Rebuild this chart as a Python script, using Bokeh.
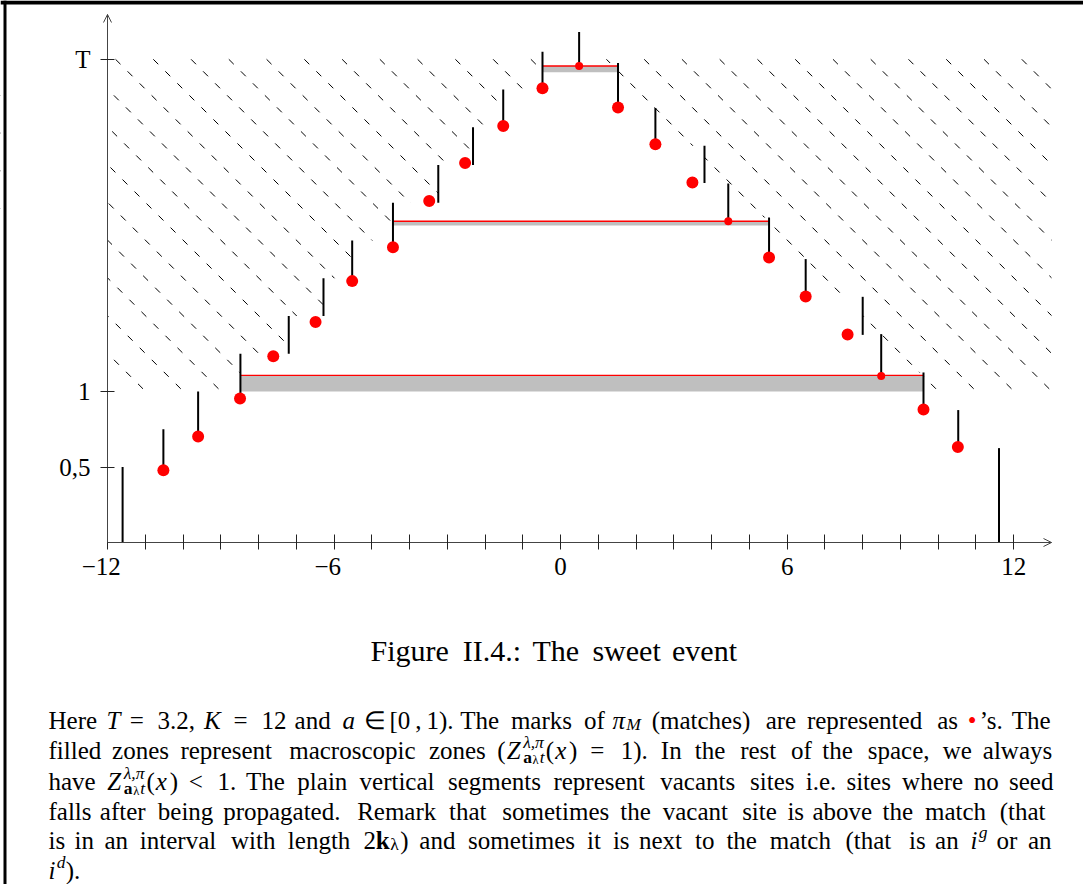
from bokeh.plotting import figure
from bokeh.models import Range1d, FixedTicker, Arrow, OpenHead, ColumnDataSource
from bokeh.core.properties import value, field
from bokeh.embed import file_html
from bokeh.resources import INLINE

# ---------------- data ----------------
T_VALUE = 3.2
x_ticks = list(range(-12, 13))
x_tick_labels = {-12: "\u221212\u2002", -6: "\u22126\u2002", 0: "0", 6: "6", 12: "12"}
y_ticks = [0.5, 1, 3.2]
y_tick_labels = {0.5: "0,5", 1: "1", 3.2: "T"}

# vacant sites (plain vertical segments)
seg_x = [-11.60, -10.52, -9.60, -8.48, -7.20, -6.28, -5.52, -4.44, -3.24, -2.32, -1.52, -0.48,
         0.49, 1.52, 2.51, 3.81, 4.44, 5.52, 6.49, 8.00, 8.49, 9.61, 10.53, 11.61]
seg_y0 = [0.0, 0.48, 0.70, 0.954, 1.25, 1.50, 1.73, 1.955, 2.25, 2.50, 2.76, 3.01,
          3.155, 2.88, 2.64, 2.38, 2.128, 1.887, 1.63, 1.375, 1.10, 0.88, 0.632, 0.0]
seg_y1 = [0.50, 0.75, 1.00, 1.25, 1.50, 1.75, 2.00, 2.25, 2.50, 2.75, 3.00, 3.25,
          3.38, 3.175, 2.877, 2.627, 2.377, 2.152, 1.877, 1.627, 1.38, 1.126, 0.877, 0.625]

# matches (red dots)
match_x = [-10.52, -9.60, -8.49, -7.61, -6.49, -5.52, -4.44, -3.48, -2.53, -1.52, -0.48,
           0.49, 1.52, 2.51, 3.49, 4.44, 5.52, 6.49, 7.60, 8.49, 9.61, 10.52]
match_y = [0.479, 0.702, 0.954, 1.234, 1.460, 1.731, 1.955, 2.261, 2.513, 2.758, 3.008,
           3.155, 2.881, 2.638, 2.384, 2.128, 1.887, 1.629, 1.377, 1.102, 0.881, 0.632]
match_on_zone = [False] * 11 + [True] + [False] * 3 + [True] + [False] * 3 + [True] + [False] * 2

# macroscopic zones
zone_x0 = [-8.48, -4.44, -0.48]
zone_x1 = [9.61, 5.52, 1.52]
zone_y0 = [1.0, 2.10, 3.115]
zone_y1 = [1.107, 2.127, 3.156]

# ---------------- layout ----------------
W, H = 1083, 884
FL, FR, FT, FB = 107, 1051, 14, 542      # plotting box (pixels)
X0, X1 = -12, 13
UX = (FR - FL) / (X1 - X0)
UY = 151.0
Y1 = (FB - FT) / UY
FONT = "Liberation Serif"


def X(px):
    return X0 + (px - FL) / UX


def Y(py):
    return (FB - py) / UY


p = figure(width=W, height=H, x_range=Range1d(X(0), X(W)), y_range=Range1d(Y(H), Y(0)),
           min_border=0, output_backend="svg", toolbar_location=None)
p.xgrid.visible = False
p.ygrid.visible = False
p.outline_line_color = None
p.background_fill_color = "white"
p.border_fill_color = "white"

# axes (drawn at fixed data locations, inside the canvas)
ax = p.xaxis[0]
ax.fixed_location = 0
ax.bounds = (X0, X1)
ax.ticker = FixedTicker(ticks=x_ticks)
ax.major_label_overrides = {t: x_tick_labels.get(t, "") for t in x_ticks}
ax.axis_line_color = "#444444"
ax.major_tick_line_color = "#222222"
ax.major_tick_in = 8
ax.major_tick_out = 7
ax.minor_tick_line_color = None
ax.major_label_text_font = FONT
ax.major_label_text_font_size = "25px"
ax.major_label_text_color = "black"
ax.major_label_standoff = 3

ay = p.yaxis[0]
ay.fixed_location = X0
ay.bounds = (0, Y1)
ay.ticker = FixedTicker(ticks=y_ticks)
ay.major_label_overrides = {t: y_tick_labels[t] for t in y_ticks}
ay.axis_line_color = "#444444"
ay.major_tick_line_color = "#222222"
ay.major_tick_in = 7
ay.major_tick_out = 7
ay.minor_tick_line_color = None
ay.major_label_text_font = FONT
ay.major_label_text_font_size = "25px"
ay.major_label_text_color = "black"
ay.major_label_standoff = 10
ay.major_label_orientation = "horizontal"

p.add_layout(Arrow(end=OpenHead(size=8, line_width=1, line_color="#444444"),
                   x_start=X1 - 0.3, y_start=0, x_end=X1, y_end=0,
                   line_color="#444444", line_width=1))
p.add_layout(Arrow(end=OpenHead(size=8, line_width=1, line_color="#444444"),
                   x_start=X0, y_start=Y1 - 0.1, x_end=X0, y_end=Y1,
                   line_color="#444444", line_width=1))

# hatch (dashed diagonal lines) over [-12, 13] x [1, T]
HATCH_STEP = 1.0
HATCH_PHASE = 0.213
run = (T_VALUE - 1.0) * UY / UX
hx, hy = [], []
for k in range(-25, 15):
    x0 = k * HATCH_STEP + HATCH_PHASE
    if x0 > X1 or x0 + run < X0:
        continue
    hx.append([x0, x0 + run])
    hy.append([T_VALUE, 1.0])
p.multi_line(hx, hy, line_color="black", line_width=1, line_dash="7 10")

# keep the hatch inside [-12, 13]
p.quad(left=[X(0), X1], right=[X0, X(W)], bottom=[1.0 - 0.01] * 2, top=[T_VALUE + 0.01] * 2,
       fill_color="white", line_color=None)

# blank the inside of the cone (below the tops of the vacant segments)
cx, cy = [seg_x[0]], [1.0]
for a, b, ta, tb in zip(seg_x[:-1], seg_x[1:], seg_y1[:-1], seg_y1[1:]):
    lvl = max(1.0, min(ta, tb))
    cx += [a, b]
    cy += [lvl, lvl]
cx.append(seg_x[-1])
cy.append(1.0)
p.patch(cx, cy, fill_color="white", line_color=None)

# macroscopic zones
p.quad(left=zone_x0, right=zone_x1, bottom=zone_y0, top=zone_y1,
       fill_color="#bfbfbf", line_color=None)
p.segment(x0=zone_x0, y0=zone_y1, x1=zone_x1, y1=zone_y1, line_color="red", line_width=1.4)

# vacant sites
p.segment(x0=seg_x, y0=seg_y0, x1=seg_x, y1=seg_y1, line_color="black", line_width=2)

# matches
sizes = [8 if z else 12 for z in match_on_zone]
p.scatter(match_x, match_y, size=sizes, fill_color="red", line_color=None)

# ---------------- caption and paragraph (word by word, justified) ----------------
CMR = dict(a=.5, b=.556, c=.444, d=.556, e=.444, f=.306, g=.5, h=.556, i=.278, j=.306, k=.528,
           l=.278, m=.833, n=.556, o=.5, p=.556, q=.528, r=.392, s=.394, t=.389, u=.556, v=.528,
           w=.722, x=.528, y=.528, z=.444, A=.75, F=.653, H=.75, I=.361, K=.778, R=.736, T=.722,
           Z=.611)
CMR.update({str(d): .5 for d in range(10)})
CMR.update({".": .278, ",": .278, ":": .278, "(": .389, ")": .389, "[": .278, "]": .278,
            "=": .778, "<": .778, "\u2208": .667, "\u2019": .278, "\u2022": .5,
            "\u03bb": .583, "\u03c0": .573, "\u2009": .167})
CMI = {"T": .584, "K": .849, "a": .529, "\u03c0": .573, "M": .97, "Z": .681, "x": .572,
       "i": .345, "g": .477, "d": .52, "t": .361, "\u03bb": .583}
CMB = {"a": .559, "k": .604}


def emw(t, st):
    tab = CMI if st == "i" else (CMB if st == "b" else CMR)
    return sum(tab.get(ch, CMR.get(ch, .5)) for ch in t)


def pc(t, st="r", sc=1.0, dy=0.0, adv=True, col="black"):
    return (t, st, sc, dy, adv, col)


def R(t):
    return pc(t)


def I(t):
    return pc(t, "i")


def SUP(t, st="i", adv=True):
    return pc(t, st, .7, .37, adv)


def SUB(t, st="i", dy=-.2):
    return pc(t, st, .7, dy)


ZGROUP = [I("Z"), SUP("\u03bb,\u03c0", adv=False), SUB("a", "b", -.25),
          pc("\u03bb", "r", .5, -.38), SUB("t", "i", -.25), R("("), I("x"), R(")")]

lines = [
    [[R("Here")], [I("T")], [R("=")], [R("3.2,")], [I("K")], [R("=")], [R("12")], [R("and")],
     [I("a")], [R("\u2208")], [R("[0\u2009,\u20091).")], [R("The")], [R("marks")], [R("of")],
     [I("\u03c0"), SUB("M", "i", -.15)], [R("(matches)")], [R("are")], [R("represented")],
     [R("as")], [pc("\u2022", col="red"), R("\u2019s.")], [R("The")]],
    [[R("filled")], [R("zones")], [R("represent")], [R("macroscopic")], [R("zones")],
     [R("(")] + ZGROUP, [R("=")], [R("1).")], [R("In")], [R("the")], [R("rest")], [R("of")],
     [R("the")], [R("space,")], [R("we")], [R("always")]],
    [[R("have")], ZGROUP, [R("<")], [R("1.")], [R("The")], [R("plain")], [R("vertical")],
     [R("segments")], [R("represent")], [R("vacants")], [R("sites")], [R("i.e.")], [R("sites")],
     [R("where")], [R("no")], [R("seed")]],
    [[R(w)] for w in "falls after being propagated. Remark that sometimes the vacant site is "
                     "above the match (that".split()],
    [[R("is")], [R("in")], [R("an")], [R("interval")], [R("with")], [R("length")],
     [R("2"), pc("k", "b"), SUB("\u03bb", "r", -.15), R(")")], [R("and")], [R("sometimes")],
     [R("it")], [R("is")], [R("next")], [R("to")], [R("the")], [R("match")], [R("(that")],
     [R("is")], [R("an")], [I("i"), SUP("g")], [R("or")], [R("an")]],
    [[I("i"), SUP("d"), R(").")]],
]
BASELINES = [720, 750, 781, 811, 840, 870]
JUSTIFY = [True, True, True, True, True, False]
LEFT, RIGHT = 48, 1053
S_EM = 24.2          # layout em (pixels)
BODY = 25            # rendered font size (pixels)

tx, ty, tt, tsz, tst, tcol = [], [], [], [], [], []
STYLE = {"r": "normal", "i": "italic", "b": "bold"}


def word_w(word, S):
    return sum(emw(t, st) * sc * S for (t, st, sc, dy, adv, col) in word if adv)


def put_line(words, base, justify, left, S, size, right=None):
    widths = [word_w(w, S) for w in words]
    if justify and len(words) > 1:
        gap = (right - left - sum(widths)) / (len(words) - 1)
    else:
        gap = .333 * S
    x = left
    for w, wd in zip(words, widths):
        c = x
        for (t, st, sc, dy, adv, col) in w:
            tx.append(X(c))
            ty.append(Y(base - dy * S))
            tt.append(t)
            tsz.append(f"{size * sc:.1f}px")
            tst.append(STYLE[st])
            tcol.append(col)
            if adv:
                c += emw(t, st) * sc * S
        x += wd + gap


# caption
cap_words = [[R(w)] for w in "Figure II.4.: The sweet event".split()]
put_line(cap_words, 650, False, 370, 29.2, 30)

for words, base, just in zip(lines, BASELINES, JUSTIFY):
    put_line(words, base, just, LEFT, S_EM, BODY, RIGHT)

src = ColumnDataSource(dict(x=tx, y=ty, text=tt, size=tsz, style=tst, color=tcol))
p.text(x="x", y="y", text="text", source=src, text_font=value(FONT),
       text_font_size=field("size"), text_font_style=field("style"), text_color=field("color"),
       text_align="left", text_baseline="alphabetic")

# outer frame lines (top and left)
p.segment(x0=[X(0)], y0=[Y(2)], x1=[X(W)], y1=[Y(2)], line_color="black", line_width=4)
p.segment(x0=[X(4.5)], y0=[Y(0)], x1=[X(4.5)], y1=[Y(H)], line_color="black", line_width=3)

open("out.html", "w").write(file_html(p, INLINE))
